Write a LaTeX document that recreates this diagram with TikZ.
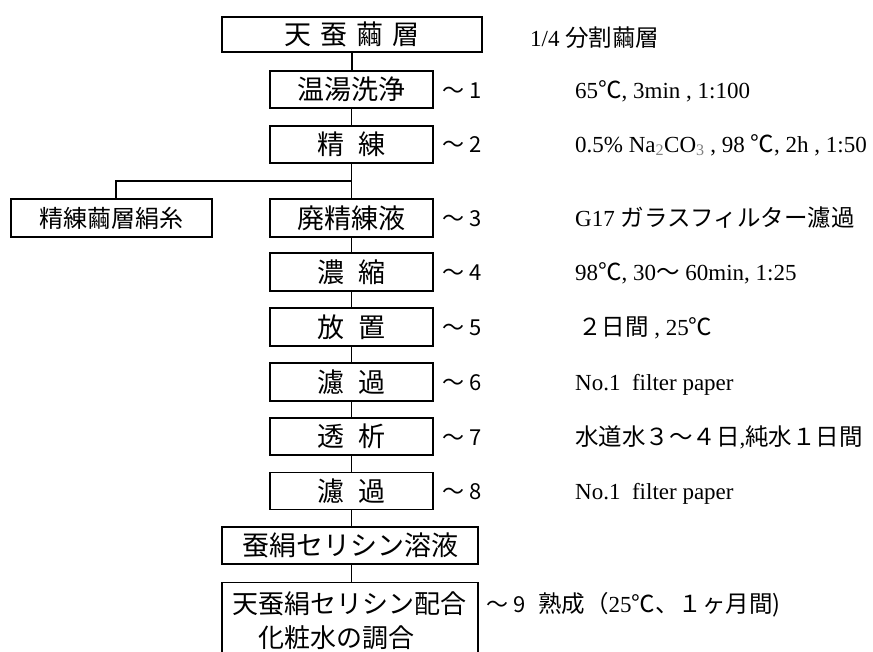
\documentclass[tikz,border=0pt]{standalone}
\usepackage{fontspec}
\setmainfont{Liberation Serif}
\newfontfamily\jp{Noto Sans CJK JP}
\newcommand\J[1]{{\jp\fontsize{23.5}{23.5}\selectfont #1}}
\newcommand\gap{\hspace{14pt}}
\begin{document}
\begin{tikzpicture}[x=1pt,y=-1pt,
  box/.style={draw, line width=1.1pt, minimum width=163pt, minimum height=37pt, inner sep=0pt,
              font=\jp\fontsize{27}{27}\selectfont},
  lab/.style={anchor=base west, inner sep=0pt, font=\jp\fontsize{22}{22}\selectfont},
  desc/.style={anchor=base west, inner sep=0pt, font=\fontsize{23}{23}\selectfont},
  jtxt/.style={anchor=base west, inner sep=0pt, font=\jp\fontsize{26}{26}\selectfont},
  conn/.style={line width=1.1pt}]
\useasboundingbox (0,0) rectangle (873,651);
\clip (0,0) rectangle (873,651);
\fill[white] (0,0) rectangle (873,651);

% boxes
\node[box, minimum width=260pt, minimum height=35pt] (n1) at (352,34.5) {天\hspace{9pt}蚕\hspace{9pt}繭\hspace{9pt}層};
\node[box] (n2) at (351.5,89.5) {温湯洗浄};
\node[box] (n3) at (351.5,144.5) {精\gap 練};
\node[box, minimum width=201pt, minimum height=38pt, font=\jp\fontsize{24}{24}\selectfont] (n4l) at (111.5,218) {精練繭層絹糸};
\node[box, minimum height=38pt] (n4) at (351.5,218) {廃精練液};
\node[box, minimum height=38pt] (n5) at (351.5,272) {濃\gap 縮};
\node[box, minimum height=38pt] (n6) at (351.5,327) {放\gap 置};
\node[box, minimum height=38pt] (n7) at (351.5,382) {濾\gap 過};
\node[box] (n8) at (351.5,436.5) {透\gap 析};
\node[box] (n9) at (351.5,491) {濾\gap 過};
\node[box, minimum width=256pt] (n10) at (350,545.5) {蚕絹セリシン溶液};
\node[box, minimum width=256pt, minimum height=90pt, anchor=north] (n11) at (350,582) {};
\node[jtxt] (n11a) at (232,613) {天蚕絹セリシン配合};
\node[jtxt] (n11b) at (232,647) {　化粧水の調合};

% connectors
\draw[conn] (n1.south) -- (n1.south |- n2.north);
\draw[conn] (n2.south) -- (n3.north);
\draw[conn] (n3.south) -- (n4.north);
\coordinate (br) at (351.5,181);
\coordinate (brl) at (116,181);
\draw[conn] (br) -- (brl) -- (brl |- n4l.north);
\draw[conn] (n4.south) -- (n5.north);
\draw[conn] (n5.south) -- (n6.north);
\draw[conn] (n6.south) -- (n7.north);
\draw[conn] (n7.south) -- (n8.north);
\draw[conn] (n8.south) -- (n9.north);
\draw[conn] (n9.south) -- (n9.south |- n10.north);
\draw[conn] (n9.south |- n10.south) -- (n9.south |- n11.north);

% step labels
\node[lab] (l1) at (442,98) {～ 1};
\node[lab] (l2) at (442,152) {～ 2};
\node[lab] (l3) at (442,226.5) {～ 3};
\node[lab] (l4) at (442,280.5) {～ 4};
\node[lab] (l5) at (442,335.5) {～ 5};
\node[lab] (l6) at (442,390.5) {～ 6};
\node[lab] (l7) at (442,445) {～ 7};
\node[lab] (l8) at (442,499.5) {～ 8};
\node[lab] (l9) at (486,612) {～ 9};

% descriptions
\node[desc] (d0) at (530,46) {1/4 \J{分割繭層}};
\node[desc] (d1) at (575,98) {65\J{℃}, 3min , 1:100};
\node[desc] (d2) at (575,152) {0.5\% Na\textsubscript{\color{gray}2}CO\textsubscript{\color{gray}3} , 98 \J{℃}, 2h , 1:50};
\node[desc] (d3) at (575,226.5) {G17 \J{ガラスフィルター濾過}};
\node[desc] (d4) at (575,280.5) {98\J{℃}, 30\J{～} 60min, 1:25};
\node[desc] (d5) at (578,335.5) {\J{２日間} , 25\J{℃}};
\node[desc] (d6) at (575,390.5) {No.1\ \ filter paper};
\node[desc] (d7) at (575,445) {\J{水道水３～４日},\J{純水１日間}};
\node[desc] (d8) at (575,499.5) {No.1\ \ filter paper};
\node[desc] (d9) at (538,612) {\J{熟成（}25\J{℃、１ヶ月間)}};
\end{tikzpicture}
\end{document}
